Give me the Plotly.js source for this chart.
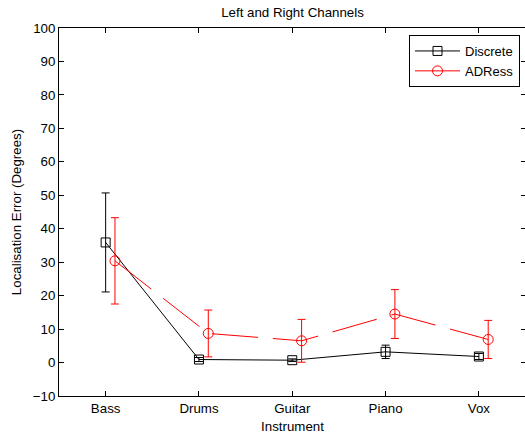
<!DOCTYPE html>
<html>
<head>
<meta charset="utf-8">
<script src="https://cdn.plot.ly/plotly-3.0.1.min.js"></script>
<style>
  html, body { margin: 0; padding: 0; background: #fff; overflow: hidden; }
  #chart { width: 527px; height: 437px; }
</style>
</head>
<body>
<div id="chart"></div>
<script>
// Instruments on the x axis
const instruments = ['Bass', 'Drums', 'Guitar', 'Piano', 'Vox'];
const positions = [1, 2, 3, 4, 5];
// ADRess points are nudged right so the error bars don't overlap
const adressOffset = 0.1;

// Mean localisation error (degrees) and error bar half-widths
const discreteMean = [35.9, 0.9, 0.7, 3.2, 1.8];
const discreteErr  = [14.8, 0.6, 0.4, 2.0, 0.9];
const adressMean   = [30.4, 8.7, 6.5, 14.5, 6.9];
const adressErr    = [12.9, 7.0, 6.4, 7.3, 5.7];

const yTicks = [-10, 0, 10, 20, 30, 40, 50, 60, 70, 80, 90, 100];

const FONT = 'Liberation Sans, Arial, sans-serif';
const FS = 13.3;

const traces = [
  {
    name: 'Discrete',
    x: positions,
    y: discreteMean,
    type: 'scatter',
    mode: 'lines+markers',
    line: { color: '#000000', width: 1 },
    marker: { symbol: 'square-open', size: 9, color: '#000000', line: { width: 1 } },
    error_y: { type: 'data', array: discreteErr, visible: true, color: '#000000', thickness: 1, width: 4 }
  },
  {
    name: 'ADRess',
    x: positions.map(p => p + adressOffset),
    y: adressMean,
    type: 'scatter',
    mode: 'lines+markers',
    line: { color: '#ff0000', width: 1, dash: '46px,15px' },
    marker: { symbol: 'circle-open', size: 10, color: '#ff0000', line: { width: 1 } },
    error_y: { type: 'data', array: adressErr, visible: true, color: '#ff0000', thickness: 1, width: 4 }
  }
];

const layout = {
  width: 527,
  height: 437,
  margin: { l: 59, r: 1, t: 28, b: 41, pad: 0 },
  paper_bgcolor: '#ffffff',
  plot_bgcolor: '#ffffff',
  font: { family: FONT, size: FS, color: '#000000' },
  title: {
    text: 'Left and Right Channels',
    font: { family: FONT, size: FS, color: '#000000' },
    x: 0.5, xref: 'paper', xanchor: 'center',
    y: 1 - 12 / 437, yref: 'container', yanchor: 'middle'
  },
  showlegend: true,
  legend: {
    x: (520 - 59) / 467, xanchor: 'right',
    y: (396 - 35) / 368, yanchor: 'top',
    bgcolor: '#ffffff',
    bordercolor: '#000000',
    borderwidth: 1,
    itemwidth: 45,
    font: { family: FONT, size: 13, color: '#000000' },
    tracegroupgap: 0
  },
  xaxis: {
    range: [0.5, 5.505],
    tickmode: 'array',
    tickvals: positions,
    ticktext: instruments,
    ticks: 'inside',
    ticklen: 5,
    tickcolor: '#000000',
    showline: true,
    linecolor: '#000000',
    linewidth: 1,
    mirror: 'ticks',
    showgrid: false,
    zeroline: false,
    tickfont: { family: FONT, size: FS },
    title: { text: 'Instrument', font: { family: FONT, size: FS }, standoff: 6 }
  },
  yaxis: {
    range: [-10, 100],
    tickmode: 'array',
    tickvals: yTicks,
    ticks: 'inside',
    ticklen: 5,
    tickcolor: '#000000',
    showline: true,
    linecolor: '#000000',
    linewidth: 1,
    mirror: 'ticks',
    showgrid: false,
    zeroline: false,
    tickfont: { family: FONT, size: FS },
    title: { text: 'Localisation Error (Degrees)', font: { family: FONT, size: FS }, standoff: 8 }
  }
};

Plotly.newPlot('chart', traces, layout, { displayModeBar: false, staticPlot: true });
</script>
</body>
</html>
